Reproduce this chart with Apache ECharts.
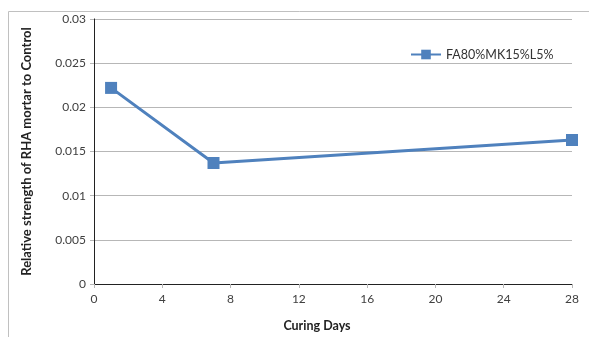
<!DOCTYPE html>
<html>
<head>
<meta charset="utf-8">
<script src="https://cdn.jsdelivr.net/npm/echarts@6/dist/echarts.min.js"></script>
<style>
  html, body { margin: 0; padding: 0; background: #fff; }
  #chart { width: 589px; height: 337px; }
</style>
</head>
<body>
<div id="chart"></div>
<script>
// Curing age (days) and relative strength of the RHA mortar vs. the control mix
const curingDays = [1, 7, 28];
const relativeStrength = [0.0222, 0.0137, 0.0163];
const seriesName = 'FA80%MK15%L5%';
const xTicks = [0, 4, 8, 12, 16, 20, 24, 28];
const yTicks = [0, 0.005, 0.01, 0.015, 0.02, 0.025, 0.03];

const FONT = 'Lato';
const BLUE = '#4f81bd';
const GRID = '#b7b7b7';

const chart = echarts.init(document.getElementById('chart'), null, { renderer: 'canvas' });

chart.setOption({
  animation: false,
  backgroundColor: '#fff',
  graphic: [{
    type: 'rect',
    shape: { x: 8.5, y: 11.5, width: 620, height: 400 },
    style: { fill: 'none', stroke: '#c0c0c0', lineWidth: 1 },
    silent: true
  }],
  grid: { left: 94, right: 17, top: 19, bottom: 51, containLabel: false },
  legend: {
    data: [seriesName],
    left: 405, top: 43,
    itemWidth: 30, itemHeight: 12, itemGap: 2,
    textStyle: { fontFamily: FONT, fontSize: 12.5, color: '#333' }
  },
  xAxis: [{
    type: 'value',
    min: xTicks[0], max: xTicks[xTicks.length - 1], interval: 4,
    name: 'Curing Days',
    nameLocation: 'middle', nameGap: 35,
    nameTextStyle: { fontFamily: FONT, fontSize: 12.5, fontWeight: 'bold', color: '#222', padding: [0, 32, 0, 0] },
    axisLine: { show: true, lineStyle: { color: GRID, width: 1 } },
    axisTick: { show: true, inside: false, length: 4, lineStyle: { color: GRID } },
    axisLabel: { fontFamily: FONT, fontSize: 12, color: '#404040', margin: 9 },
    splitLine: { show: false }
  }, {
    type: 'value', position: 'top',
    min: 0, max: 28,
    axisLine: { show: true, lineStyle: { color: '#222', width: 1 } },
    axisTick: { show: false }, axisLabel: { show: false }, splitLine: { show: false }
  }],
  yAxis: [{
    type: 'value',
    min: yTicks[0], max: yTicks[yTicks.length - 1], interval: 0.005,
    name: 'Relative strength of RHA mortar to Control',
    nameLocation: 'middle', nameGap: 61,
    nameTextStyle: { fontFamily: FONT, fontSize: 13, fontWeight: 'bold', color: '#222' },
    axisLine: { show: true, lineStyle: { color: GRID, width: 1 } },
    axisTick: { show: true, inside: false, length: 4, lineStyle: { color: GRID } },
    axisLabel: { fontFamily: FONT, fontSize: 12, color: '#404040', margin: 8,
      formatter: v => String(parseFloat(v.toFixed(3))) },
    splitLine: { show: true, lineStyle: { color: GRID, width: 1 } }
  }, {
    type: 'value', position: 'right',
    min: 0, max: 0.03,
    axisLine: { show: true, lineStyle: { color: '#222', width: 1 } },
    axisTick: { show: false }, axisLabel: { show: false }, splitLine: { show: false }
  }],
  series: [{
    name: seriesName,
    type: 'line',
    data: curingDays.map((d, i) => [d, relativeStrength[i]]),
    symbol: 'rect',
    symbolSize: 12,
    lineStyle: { color: BLUE, width: 3 },
    itemStyle: { color: BLUE },
    z: 5
  }]
});
</script>
</body>
</html>
